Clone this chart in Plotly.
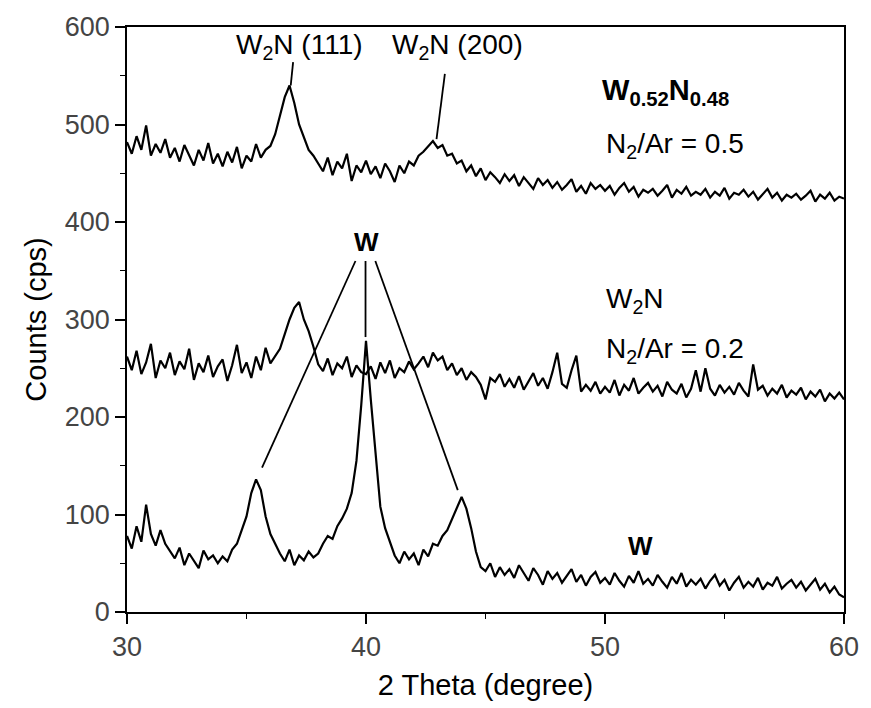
import numpy as np
import plotly.graph_objects as go

# 2-theta grid (degrees)
theta_start, theta_stop, theta_step = 30.0, 60.0, 0.2
two_theta = np.round(np.arange(theta_start, theta_stop + theta_step / 2, theta_step), 2)

# W0.52N0.48, N2/Ar = 0.5
counts_n05 = [
    482, 470, 488, 474, 499, 468, 480, 471, 485, 466,
    476, 462, 479, 468, 458, 474, 463, 481, 460, 470,
    457, 472, 461, 477, 455, 468, 462, 480, 466, 474,
    478, 490, 508, 528, 540, 522, 500, 486, 474, 468,
    460, 452, 466, 448, 462, 455, 470, 442, 458, 451,
    463, 449, 457, 445, 460, 452, 441, 458, 450, 462,
    458, 468, 472, 478, 483, 476, 479, 468, 470, 460,
    463, 452, 458, 447, 455, 443, 451, 446, 440, 449,
    442, 448, 437, 446, 440, 434, 445, 438, 443, 435,
    441, 433, 438, 444, 431, 437, 429, 440, 434, 438,
    432, 437, 428, 435, 440, 431, 436, 426, 433, 430,
    434, 427, 432, 438, 425, 433, 429, 436, 427, 431,
    428, 434, 425, 431, 427, 435, 424, 430, 428, 433,
    426, 431, 423, 429, 434, 425, 430, 422, 428, 425,
    429, 423, 427, 432, 421, 428, 424, 430, 422, 426,
    424,
]

# W2N, N2/Ar = 0.2
counts_n02 = [
    262, 248, 268, 244, 256, 275, 240, 258, 250, 266,
    243, 257, 249, 270, 238, 255, 246, 263, 241, 252,
    259, 237, 253, 274, 245, 256, 240, 262, 248, 271,
    255, 262, 270, 285, 300, 312, 318, 300, 288, 272,
    254, 247, 260, 243, 255, 250, 262, 241, 253, 246,
    244, 252, 239, 256, 245, 258, 240, 250, 246, 257,
    249, 255, 262, 251, 266, 258, 262, 248, 255, 243,
    250, 238, 246, 241, 233, 218, 240, 236, 244, 231,
    239, 230, 242, 228, 236, 245, 232, 240, 229, 246,
    266, 234, 230, 248, 263, 226, 233, 227, 236, 224,
    231, 225, 238, 222, 233, 227, 240, 224, 230, 235,
    226, 232, 221, 236, 228, 224, 234, 220, 229, 248,
    226, 250, 229, 222, 233, 225, 231, 223, 235, 227,
    221, 254, 228, 232, 222, 229, 224, 233, 220, 227,
    223, 230, 218, 226, 221, 228, 216, 224, 219, 225,
    218,
]

# W
counts_w = [
    78, 65, 88, 72, 110, 80, 68, 84, 70, 62,
    55, 66, 48, 60, 52, 45, 63, 54, 58, 50,
    57, 52, 64, 70, 84, 98, 122, 136, 125, 98,
    80, 70, 60, 52, 64, 48, 58, 53, 62, 56,
    60, 70, 78, 75, 88, 96, 106, 122, 155, 212,
    278, 218, 162, 108, 86, 72, 58, 50, 62, 54,
    60, 48, 64, 57, 70, 68, 78, 84, 96, 108,
    118, 106, 86, 62, 46, 42, 50, 36, 46, 38,
    44, 35, 48, 40, 32, 45, 38, 28, 42, 34,
    40, 30, 37, 44, 31, 38, 27, 36, 41, 30,
    35, 28, 40, 32, 26, 37, 30, 42, 29, 34,
    27, 38, 31, 25, 36, 29, 40, 26, 33, 28,
    34, 24, 32, 38, 27, 33, 22, 30, 36, 25,
    31, 26, 35, 23, 30, 27, 36, 24, 29, 33,
    25, 31, 22, 28, 34, 23, 29, 20, 26, 18,
    15,
]

# Peak pointer segments: (x0, y0, x1, y1) in data units
pointer_segments = [
    (36.95, 564, 36.85, 540),   # W2N (111)
    (43.30, 552, 42.95, 485),   # W2N (200)
    (39.56, 360, 35.65, 148),   # W -> 35.5
    (39.98, 360, 39.98, 282),   # W -> 40.0
    (40.39, 360, 43.84, 125),   # W -> 44.0
]

# Text labels: (x, y, text, bold, size, xanchor)
labels = [
    (37.23, 580, "W<sub>2</sub>N (111)", False, 28, "center"),
    (43.84, 580, "W<sub>2</sub>N (200)", False, 28, "center"),
    (49.80, 533, "W<sub>0.52</sub>N<sub>0.48</sub>", True, 29, "left"),
    (49.95, 478, "N<sub>2</sub>/Ar = 0.5", False, 28, "left"),
    (49.95, 320, "W<sub>2</sub>N", False, 28, "left"),
    (49.95, 268, "N<sub>2</sub>/Ar = 0.2", False, 28, "left"),
    (40.02, 380, "W", True, 26, "center"),
    (51.50, 68, "W", True, 26, "center"),
]

x_ticks = [30, 40, 50, 60]
y_ticks = [0, 100, 200, 300, 400, 500, 600]

FONT = "Arial, 'Liberation Sans', sans-serif"

fig = go.Figure()
for ys in (counts_w, counts_n02, counts_n05):
    fig.add_trace(go.Scatter(x=two_theta, y=ys, mode="lines",
                             line=dict(color="black", width=2.2),
                             showlegend=False, hoverinfo="skip"))

for x0, y0, x1, y1 in pointer_segments:
    fig.add_trace(go.Scatter(x=[x0, x1], y=[y0, y1], mode="lines",
                             line=dict(color="black", width=1.8),
                             showlegend=False, hoverinfo="skip"))

for x, y, txt, bold, size, xa in labels:
    fig.add_annotation(x=x, y=y, xref="x", yref="y", showarrow=False,
                       text=f"<b>{txt}</b>" if bold else txt,
                       xanchor=xa, yanchor="middle",
                       font=dict(family=FONT, size=size, color="black"))

axis_common = dict(showline=True, linecolor="black", linewidth=1.5, mirror=True,
                   ticks="outside", ticklen=10, tickwidth=1.5, tickcolor="black",
                   showgrid=False, zeroline=False,
                   tickfont=dict(family=FONT, size=27, color="#444"))

fig.update_xaxes(range=[30, 60], tickvals=x_ticks,
                 minor=dict(dtick=5, ticks="outside", ticklen=5, tickcolor="black", tickwidth=1.2),
                 title=dict(text="2 Theta (degree)", font=dict(family=FONT, size=29, color="black"),
                            standoff=14),
                 **axis_common)
fig.update_yaxes(range=[0, 600], tickvals=y_ticks,
                 minor=dict(dtick=50, ticks="outside", ticklen=5, tickcolor="black", tickwidth=1.2),
                 title=dict(text="Counts (cps)", font=dict(family=FONT, size=29, color="black"),
                            standoff=10),
                 **axis_common)

fig.update_layout(width=871, height=708,
                  margin=dict(l=127, r=23, t=26, b=96),
                  paper_bgcolor="white", plot_bgcolor="white")

fig.write_html("out.html")
